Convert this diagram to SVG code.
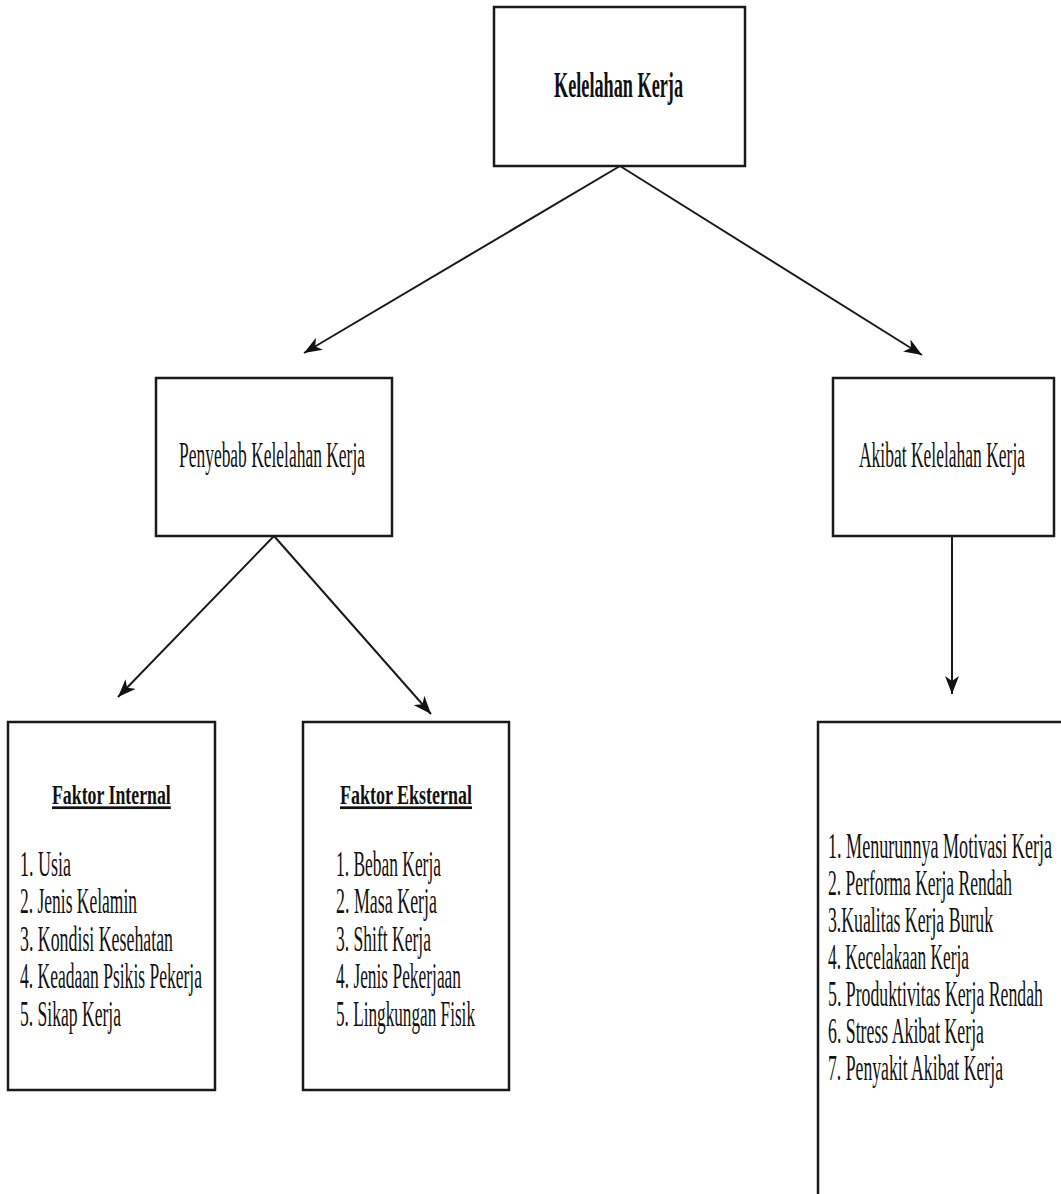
<svg xmlns="http://www.w3.org/2000/svg" width="1061" height="1194" viewBox="0 0 1061 1194">
<style>
.box{fill:#fff;stroke:#1a1a1a;stroke-width:2.5}
.t{font-family:"Liberation Serif","Times New Roman",serif;fill:#111;font-size:35px}
.b{font-weight:bold}
.head{font-size:27px;font-weight:bold;text-decoration:underline}
.conn{stroke:#1a1a1a;stroke-width:2;fill:none;marker-end:url(#ah)}
</style>
<defs>
<marker id="ah" markerUnits="userSpaceOnUse" markerWidth="20" markerHeight="14" refX="18" refY="7" orient="auto">
<path d="M0,0 L18,7 L0,14 L5,7 Z" fill="#111"/>
</marker>
</defs>
<rect width="1061" height="1194" fill="#fff"/>
<g id="connectors">
<line class="conn" x1="620" y1="166" x2="304" y2="353"/>
<line class="conn" x1="620" y1="166" x2="922" y2="355"/>
<line class="conn" x1="274" y1="536" x2="118" y2="697"/>
<line class="conn" x1="274" y1="536" x2="431" y2="714"/>
<line class="conn" x1="952" y1="536" x2="952" y2="694"/>
</g>
<g id="kelelahan-kerja">
<rect class="box" x="494" y="7" width="251" height="159"/>
<text class="t b" transform="translate(554,97) scale(0.5,1)" textLength="258" lengthAdjust="spacingAndGlyphs">Kelelahan Kerja</text>
</g>
<g id="penyebab">
<rect class="box" x="156" y="378" width="236" height="158"/>
<text class="t" transform="translate(179,467) scale(0.5,1)" textLength="372" lengthAdjust="spacingAndGlyphs">Penyebab Kelelahan Kerja</text>
</g>
<g id="akibat">
<rect class="box" x="833" y="378" width="221" height="158"/>
<text class="t" transform="translate(859,467) scale(0.5,1)" textLength="332" lengthAdjust="spacingAndGlyphs">Akibat Kelelahan Kerja</text>
</g>
<g id="faktor-internal">
<rect class="box" x="8" y="722" width="207" height="368"/>
<text class="t head" transform="translate(52,804) scale(0.66,1)" textLength="180" lengthAdjust="spacingAndGlyphs">Faktor Internal</text>
<text class="t" transform="translate(20,876) scale(0.5,1)" textLength="102" lengthAdjust="spacingAndGlyphs">1. Usia</text>
<text class="t" transform="translate(20,913) scale(0.5,1)" textLength="234" lengthAdjust="spacingAndGlyphs">2. Jenis Kelamin</text>
<text class="t" transform="translate(20,951) scale(0.5,1)" textLength="306" lengthAdjust="spacingAndGlyphs">3. Kondisi Kesehatan</text>
<text class="t" transform="translate(20,988) scale(0.5,1)" textLength="364" lengthAdjust="spacingAndGlyphs">4. Keadaan Psikis Pekerja</text>
<text class="t" transform="translate(20,1026) scale(0.5,1)" textLength="202" lengthAdjust="spacingAndGlyphs">5. Sikap Kerja</text>
</g>
<g id="faktor-eksternal">
<rect class="box" x="303" y="722" width="206" height="368"/>
<text class="t head" transform="translate(340,804) scale(0.66,1)" textLength="200" lengthAdjust="spacingAndGlyphs">Faktor Eksternal</text>
<text class="t" transform="translate(336,876) scale(0.5,1)" textLength="210" lengthAdjust="spacingAndGlyphs">1. Beban Kerja</text>
<text class="t" transform="translate(336,913) scale(0.5,1)" textLength="202" lengthAdjust="spacingAndGlyphs">2. Masa Kerja</text>
<text class="t" transform="translate(336,951) scale(0.5,1)" textLength="190" lengthAdjust="spacingAndGlyphs">3. Shift Kerja</text>
<text class="t" transform="translate(336,988) scale(0.5,1)" textLength="250" lengthAdjust="spacingAndGlyphs">4. Jenis Pekerjaan</text>
<text class="t" transform="translate(336,1026) scale(0.5,1)" textLength="278" lengthAdjust="spacingAndGlyphs">5. Lingkungan Fisik</text>
</g>
<g id="akibat-list">
<rect class="box" x="818" y="722" width="260" height="500"/>
<text class="t" transform="translate(828,858) scale(0.5,1)" textLength="448" lengthAdjust="spacingAndGlyphs">1. Menurunnya Motivasi Kerja</text>
<text class="t" transform="translate(828,895) scale(0.5,1)" textLength="368" lengthAdjust="spacingAndGlyphs">2. Performa Kerja Rendah</text>
<text class="t" transform="translate(828,932) scale(0.5,1)" textLength="330" lengthAdjust="spacingAndGlyphs">3.Kualitas Kerja Buruk</text>
<text class="t" transform="translate(828,969) scale(0.5,1)" textLength="282" lengthAdjust="spacingAndGlyphs">4. Kecelakaan Kerja</text>
<text class="t" transform="translate(828,1006) scale(0.5,1)" textLength="430" lengthAdjust="spacingAndGlyphs">5. Produktivitas Kerja Rendah</text>
<text class="t" transform="translate(828,1043) scale(0.5,1)" textLength="312" lengthAdjust="spacingAndGlyphs">6. Stress Akibat Kerja</text>
<text class="t" transform="translate(828,1080) scale(0.5,1)" textLength="350" lengthAdjust="spacingAndGlyphs">7. Penyakit Akibat Kerja</text>
</g>
</svg>
